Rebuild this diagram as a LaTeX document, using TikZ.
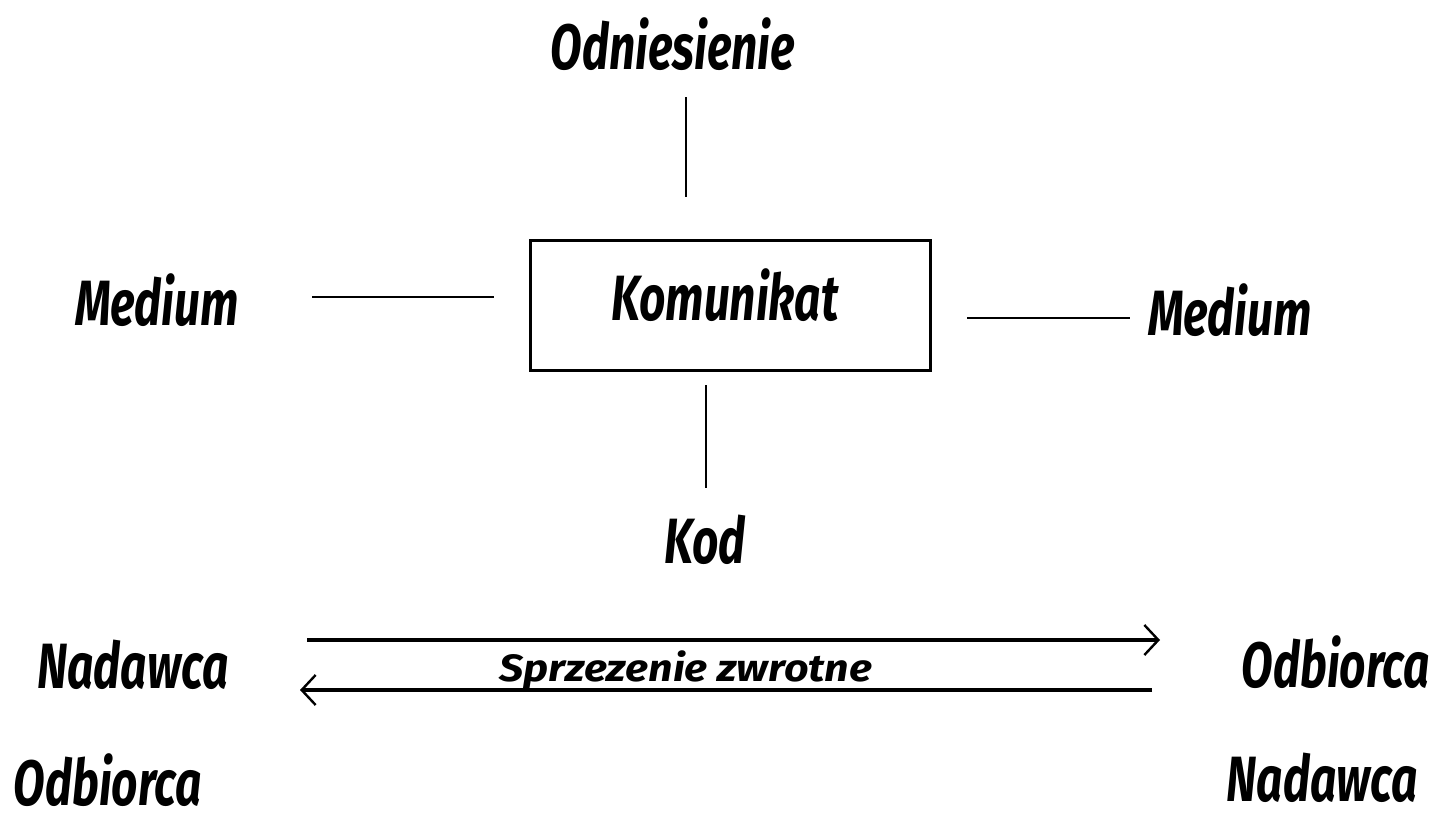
\documentclass[tikz,border=0pt]{standalone}
\usepackage{fontspec}
\setmainfont{Fira Sans}[FakeStretch=0.72]
\newfontfamily\widefont{Fira Sans}[FakeStretch=1.13]
\usetikzlibrary{arrows.meta}
\tikzset{
  big/.style={font=\fontsize{64}{66}\selectfont\bfseries\itshape, inner sep=0pt},
  small/.style={font=\widefont\fontsize{38}{40}\selectfont\bfseries\itshape, inner sep=0pt},
  thin/.style={line width=1.6pt},
  thick2/.style={line width=3.2pt},
  harrow/.style={thick2, -{Straight Barb[length=14pt, width=30pt, line width=2.4pt]}},
}
\begin{document}
\begin{tikzpicture}[x=1pt,y=-1pt]
\useasboundingbox (0,0) rectangle (1435,820);
\node[big] (odn) at (673,44) {Odniesienie};
\node[draw, line width=3pt, minimum width=400pt, minimum height=130pt, inner sep=0pt] (box) at (730,305) {};
\node[big] (kom) at (725,295) {Komunikat};
\node[big] (medl) at (157,300) {Medium};
\node[big] (medr) at (1230,310) {Medium};
\node[big] (kod) at (705,540) {Kod};
\node[big] (nad1) at (133,665) {Nadawca};
\node[big] (odb1) at (108,780) {Odbiorca};
\node[big] (odb2) at (1336,662) {Odbiorca};
\node[big] (nad2) at (1322,778) {Nadawca};
\node[small] (sprz) at (686,670) {Sprzezenie zwrotne};
\coordinate (t1) at (686,97); \coordinate (t2) at (686,197);
\draw[thin] (t1) -- (t2);
\coordinate (l1) at (312,297); \coordinate (l2) at (494,297);
\draw[thin] (l1) -- (l2);
\coordinate (r1) at (967,318); \coordinate (r2) at (1130,318);
\draw[thin] (r1) -- (r2);
\coordinate (b1) at (706,385); \coordinate (b2) at (706,488);
\draw[thin] (b1) -- (b2);
\coordinate (a1) at (307,640); \coordinate (a2) at (1160,640);
\draw[harrow] (a1) -- (a2);
\coordinate (c1) at (1152,690); \coordinate (c2) at (300,690);
\draw[harrow] (c1) -- (c2);
\end{tikzpicture}
\end{document}
